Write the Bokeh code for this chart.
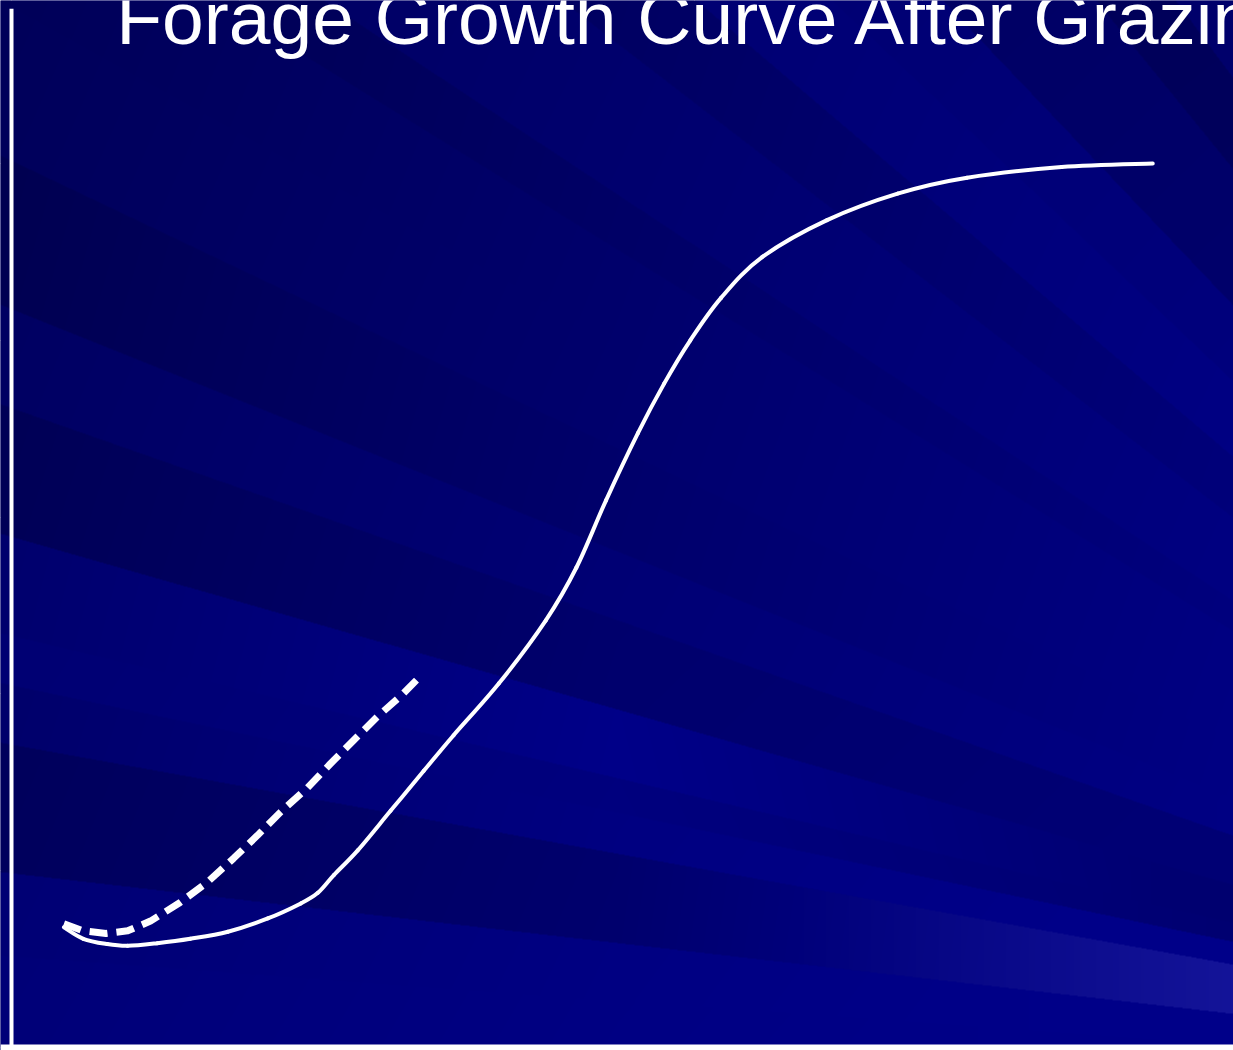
import numpy as np
from bokeh.plotting import figure
from bokeh.models import Range1d, Span, Label
from bokeh.embed import file_html
from bokeh.resources import INLINE

TITLE = "Forage Growth Curve After Grazing"

# Regrowth after grazing: days since grazing vs. relative forage mass
regrowth_days = [4.6, 6.3, 8.4, 10.2, 12.8, 15.7, 19.0, 22.5, 25.4, 26.9, 28.3,
                 30.4, 33.3, 36.2, 38.8, 42.8, 46.9, 49.6, 52.2, 55.0, 57.3,
                 59.6, 62.3, 65.9, 71.6, 77.8, 83.9, 92.2, 100.2]
regrowth_mass = [13.6, 12.3, 11.7, 11.5, 11.8, 12.3, 13.1, 14.6, 16.3, 17.5, 19.5,
                 22.3, 26.8, 31.3, 35.3, 41.2, 48.3, 54.3, 61.9, 69.5, 75.1,
                 80.0, 84.8, 89.4, 93.6, 96.6, 98.4, 99.6, 100.0]

# Faster regrowth when more leaf is left behind (dashed)
lenient_days = [4.6, 6.3, 8.3, 10.2, 12.2, 14.8, 17.2, 19.5, 21.6, 23.6, 26.0,
                28.0, 30.0, 32.1, 34.2, 35.9]
lenient_mass = [14.0, 13.2, 12.9, 13.2, 14.3, 16.4, 18.7, 21.4, 24.0, 26.6, 29.4,
                32.1, 34.7, 37.4, 39.8, 42.0]

W, H = 1233, 1050
X_START, X_END = -0.966, 107.29
Y_START, Y_END = -0.339, 118.44


def ray_background(w, h):
    """Navy slide backdrop with soft light rays fanning from the lower right."""
    yy, xx = np.mgrid[0:h, 0:w].astype(float)
    fx, fy = 1990.0, 1100.0
    s = (fy - yy) / (fx - xx)
    edges = np.array([0.073, 0.115, 0.18, 0.21, 0.235, 0.285, 0.35, 0.40, 0.475,
                      0.553, 0.62, 0.66, 0.77, 0.85, 0.95, 1.05, 1.23, 1.35])
    # blue level at the left edge, middle and right edge of each ray
    lmr = np.array([
        [0x7a, 0x84, 0x88], [0x76, 0x84, 0x8a], [0x50, 0x62, 0xa4],
        [0x6a, 0x84, 0x8a], [0x78, 0x80, 0x62], [0x70, 0x92, 0x5e],
        [0x4c, 0x66, 0x68], [0x62, 0x74, 0x80], [0x48, 0x66, 0x80],
        [0x5a, 0x6a, 0x80], [0x58, 0x6a, 0x80], [0x48, 0x62, 0x7a],
        [0x62, 0x70, 0x80], [0x4a, 0x60, 0x76], [0x6a, 0x78, 0x86],
        [0x70, 0x78, 0x7c], [0x5e, 0x5e, 0x60], [0x4a, 0x4a, 0x4a],
        [0x66, 0x66, 0x66]], dtype=float)
    red = np.zeros(len(lmr))
    red[2] = 0x14
    idx = np.searchsorted(edges, s)
    mid = w / 2.0
    a = np.clip(xx / mid, 0, 1)
    b = np.clip((xx - mid) / (w - mid), 0, 1)
    L, M, R = lmr[idx, 0], lmr[idx, 1], lmr[idx, 2]
    rays = np.where(xx < mid, L + (M - L) * a, M + (R - M) * b)
    smooth = 0x5a + 0x2e * np.clip(0.55 * xx / w + 0.6 * yy / h, 0, 1)
    blue = 0.6 * rays + 0.4 * smooth
    rg = red[idx] * np.clip((xx - 780) / 450, 0, 1)
    img = np.zeros((h, w, 4), dtype=np.uint8)
    img[..., 0] = rg.astype(np.uint8)
    img[..., 1] = rg.astype(np.uint8)
    img[..., 2] = np.clip(blue, 0, 255).astype(np.uint8)
    img[..., 3] = 255
    return img[::-1].copy().view(dtype=np.uint32).reshape((h, w))


def smooth_segments(xs, ys):
    """Catmull-Rom curve through the points, as cubic Bezier segments."""
    x = np.asarray(xs, float)
    y = np.asarray(ys, float)
    xp = np.concatenate([[x[0]], x, [x[-1]]])
    yp = np.concatenate([[y[0]], y, [y[-1]]])
    n = len(x) - 1
    i = np.arange(n) + 1
    return dict(
        x0=xp[i], y0=yp[i], x1=xp[i + 1], y1=yp[i + 1],
        cx0=xp[i] + (xp[i + 1] - xp[i - 1]) / 6, cy0=yp[i] + (yp[i + 1] - yp[i - 1]) / 6,
        cx1=xp[i + 1] - (xp[i + 2] - xp[i]) / 6, cy1=yp[i + 1] - (yp[i + 2] - yp[i]) / 6,
    )


p = figure(width=W, height=H, x_range=Range1d(X_START, X_END),
           y_range=Range1d(Y_START, Y_END), x_axis_location=None,
           y_axis_location=None, toolbar_location=None, output_backend="svg",
           min_border=0, outline_line_color=None,
           background_fill_color="#000068", border_fill_color="#000068")

p.image_rgba(image=[ray_background(W, H)], x=X_START, y=Y_START,
             dw=X_END - X_START, dh=Y_END - Y_START)

# axis lines
p.add_layout(Span(location=0, dimension="width", line_color="white", line_width=6))
p.segment(x0=[0], y0=[0], x1=[0], y1=[117.5], line_color="white", line_width=4)

p.bezier(line_color="white", line_width=4, line_cap="round",
         **smooth_segments(regrowth_days, regrowth_mass))
p.line(lenient_days, lenient_mass, line_color="white", line_width=7,
       line_dash="18 9", line_cap="butt", line_join="round")

p.add_layout(Label(x=9.2, y=116.5, text=TITLE, text_font="Liberation Sans",
                   text_font_size="75px", text_color="white",
                   text_baseline="alphabetic", text_align="left"))

open("out.html", "w").write(file_html(p, INLINE))
